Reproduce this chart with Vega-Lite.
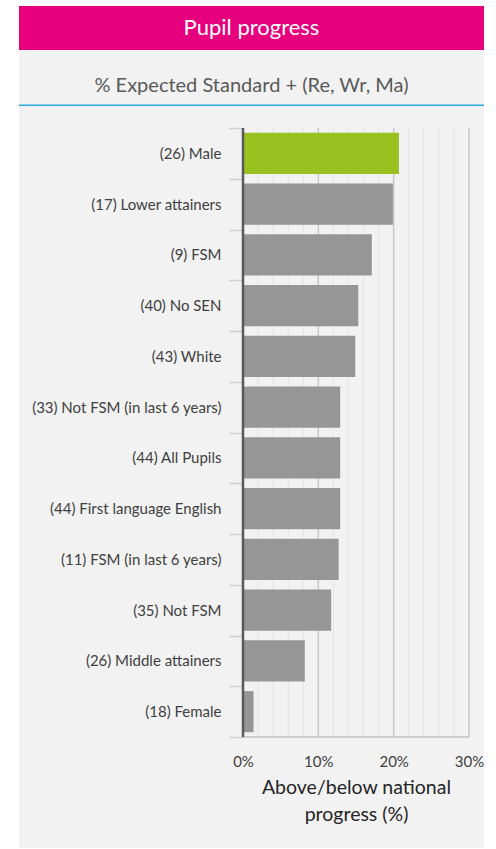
{
  "$schema": "https://vega.github.io/schema/vega-lite/v6.json",
  "padding": {"left": 17, "top": 6, "right": 14, "bottom": 1},
  "background": "white",
  "config": {"view": {"stroke": null}, "font": "Lato"},
  "spacing": 0,
  "bounds": "flush",
  "datasets": {
    "bars": [
      {"cat": "(26) Male", "value": 20.7, "group": "highlight"},
      {"cat": "(17) Lower attainers", "value": 19.9, "group": "other"},
      {"cat": "(9) FSM", "value": 17.1, "group": "other"},
      {"cat": "(40) No SEN", "value": 15.3, "group": "other"},
      {"cat": "(43) White", "value": 14.9, "group": "other"},
      {"cat": "(33) Not FSM (in last 6 years)", "value": 12.9, "group": "other"},
      {"cat": "(44) All Pupils", "value": 12.9, "group": "other"},
      {"cat": "(44) First language English", "value": 12.9, "group": "other"},
      {"cat": "(11) FSM (in last 6 years)", "value": 12.7, "group": "other"},
      {"cat": "(35) Not FSM", "value": 11.7, "group": "other"},
      {"cat": "(26) Middle attainers", "value": 8.2, "group": "other"},
      {"cat": "(18) Female", "value": 1.4, "group": "other"}
    ],
    "minor": [{"v": 2}, {"v": 4}, {"v": 6}, {"v": 8}, {"v": 12}, {"v": 14}, {"v": 16}, {"v": 18}, {"v": 22}, {"v": 24}, {"v": 26}, {"v": 28}],
    "major": [{"v": 10}, {"v": 20}, {"v": 30}]
  },
  "vconcat": [
    {
      "width": 465,
      "height": 44,
      "view": {"fill": "#e6007e", "stroke": null},
      "data": {"values": [{"t": "Pupil progress"}]},
      "mark": {"type": "text", "color": "white", "fontSize": 22, "align": "center", "baseline": "middle", "font": "Lato"},
      "encoding": {"text": {"field": "t"}}
    },
    {
      "width": 465,
      "height": 56,
      "view": {"fill": "#f2f2f2", "stroke": null},
      "data": {"values": [{"t": "% Expected Standard + (Re, Wr, Ma)"}]},
      "layer": [
        {
          "mark": {"type": "text", "color": "#595959", "fontSize": 20, "align": "center", "baseline": "middle", "dy": 8, "font": "Lato"},
          "encoding": {"text": {"field": "t"}}
        },
        {
          "mark": {"type": "rule", "color": "#29abe2", "strokeWidth": 3},
          "encoding": {"y": {"datum": 0, "type": "quantitative", "scale": {"domain": [0, 1]}, "axis": null}}
        }
      ]
    },
    {
      "width": 465,
      "height": 742,
      "view": {"fill": "#f2f2f2", "stroke": null},
      "layer": [
        {
          "data": {"name": "minor"},
          "mark": {"type": "rule", "color": "#e3e3e3", "strokeWidth": 1},
          "encoding": {
            "x": {"field": "v", "type": "quantitative", "scale": {"domain": [-29.735, 31.991], "zero": false, "nice": false}},
            "y": {"datum": "(26) Male", "type": "nominal", "bandPosition": 0},
            "y2": {"datum": "(18) Female", "bandPosition": 1}
          }
        },
        {
          "data": {"name": "major"},
          "mark": {"type": "rule", "color": "#c8c8c8", "strokeWidth": 1.5},
          "encoding": {
            "x": {"field": "v", "type": "quantitative", "scale": {"domain": [-29.735, 31.991], "zero": false, "nice": false}},
            "y": {"datum": "(26) Male", "type": "nominal", "bandPosition": 0},
            "y2": {"datum": "(18) Female", "bandPosition": 1}
          }
        },
        {
          "data": {"values": [{}]},
          "mark": {"type": "rule", "color": "#c0c0c0", "strokeWidth": 1.5},
          "encoding": {
            "x": {"datum": 0, "type": "quantitative"},
            "x2": {"datum": 30},
            "y": {"datum": "(18) Female", "type": "nominal", "bandPosition": 1}
          }
        },
        {
          "data": {"name": "bars"},
          "mark": {"type": "bar", "height": {"band": 0.81}},
          "encoding": {
            "y": {
              "field": "cat", "type": "nominal", "sort": null,
              "scale": {
                "domain": ["(26) Male", "(17) Lower attainers", "(9) FSM", "(40) No SEN", "(43) White", "(33) Not FSM (in last 6 years)", "(44) All Pupils", "(44) First language English", "(11) FSM (in last 6 years)", "(35) Not FSM", "(26) Middle attainers", "(18) Female"],
                "paddingInner": 0, "paddingOuter": 0, "range": [22, 631]
              },
              "axis": {
                "orient": "left", "offset": -224, "domain": false, "ticks": true, "tickBand": "extent",
                "tickSize": 14, "tickColor": "#d0d0d0", "tickWidth": 1.5, "labelPadding": 8,
                "labelFontSize": 15, "labelColor": "#404040", "labelFont": "Lato", "title": null, "labelLimit": 300, "grid": false
              }
            },
            "x": {
              "field": "value", "type": "quantitative",
              "scale": {"domain": [-29.735, 31.991], "zero": false, "nice": false},
              "axis": {
                "orient": "bottom", "offset": -111, "values": [0, 10, 20, 30], "labelExpr": "datum.value + '%'",
                "domain": false, "ticks": false, "grid": false, "labelPadding": 17, "labelFontSize": 15,
                "labelColor": "#404040", "labelFont": "Lato",
                "title": ["Above/below national", "progress (%)"], "titleFontSize": 19.5, "titleFontWeight": "normal",
                "titleColor": "#262626", "titleFont": "Lato", "titleX": 337, "titlePadding": 9, "titleLineHeight": 27
              }
            },
            "x2": {"datum": 0},
            "color": {"field": "group", "type": "nominal", "scale": {"domain": ["highlight", "other"], "range": ["#99c221", "#969696"]}, "legend": null}
          }
        },
        {
          "data": {"values": [{}]},
          "mark": {"type": "rule", "color": "#595959", "strokeWidth": 2.5},
          "encoding": {
            "x": {"datum": 0, "type": "quantitative"},
            "y": {"datum": "(26) Male", "type": "nominal", "bandPosition": 0},
            "y2": {"datum": "(18) Female", "bandPosition": 1}
          }
        }
      ]
    }
  ]
}
